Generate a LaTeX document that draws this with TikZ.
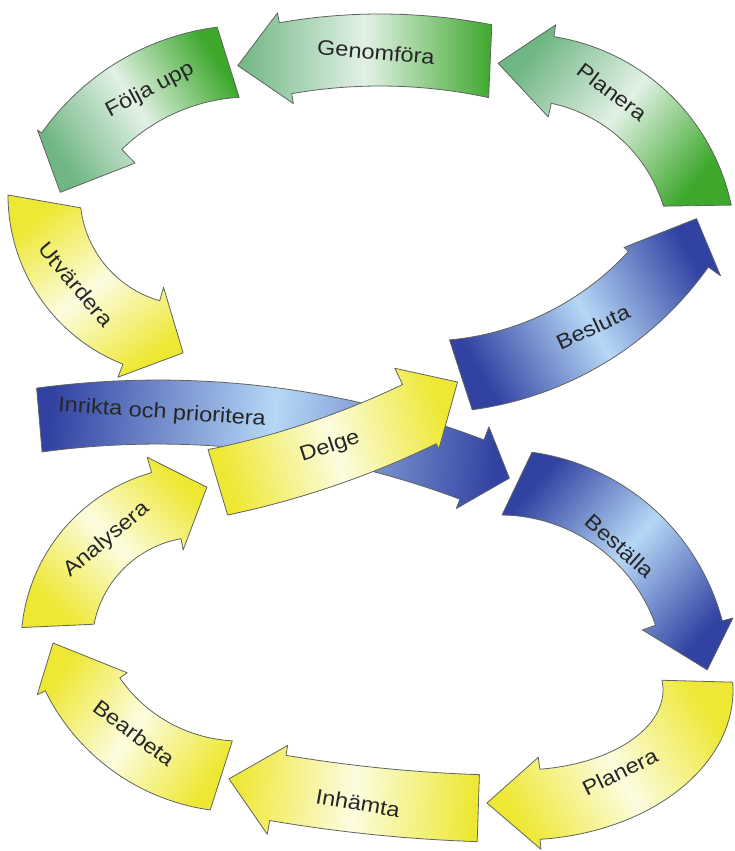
\documentclass[tikz,border=0pt]{standalone}
\usepackage{fontspec}
\setmainfont{Liberation Sans}[FakeStretch=1.12]

% colours of the three arrow families
\definecolor{gDeep}{RGB}{62,168,45}
\definecolor{gSea}{RGB}{112,182,132}
\definecolor{gPale}{RGB}{226,241,229}
\definecolor{yDeep}{RGB}{238,232,52}
\definecolor{yPale}{RGB}{252,252,224}
\definecolor{bDeep}{RGB}{50,66,162}
\definecolor{bPale}{RGB}{182,216,246}
\definecolor{edge}{RGB}{95,100,95}

% geometry of a curved block arrow along an elliptic arc
% cx,cy: centre; rx,ry: mid radii; w: band width
% to/ti: tail angle on outer/inner edge; ho/hi: head base angle on outer/inner edge
% tip: tip angle; bo/bi: barb overhang outside/inside; tr: radial offset of the tip
\pgfkeys{/band/.is family, /band/.cd,
  cx/.store in=\bdCx, cy/.store in=\bdCy,
  r/.code={\def\bdRx{#1}\def\bdRy{#1}},
  rx/.store in=\bdRx, ry/.store in=\bdRy, w/.store in=\bdW,
  to/.store in=\bdTo, ti/.store in=\bdTi, ho/.store in=\bdHo, hi/.store in=\bdHi,
  tip/.store in=\bdTip, bo/.store in=\bdBo, bi/.store in=\bdBi, tr/.store in=\bdTr}

\newcommand\bandarrow[2]{%
  \begingroup
  \pgfkeys{/band/.cd, bo=12, bi=12, tr=0, #1}%
  \pgfmathsetmacro\bdXo{\bdRx+\bdW/2}%
  \pgfmathsetmacro\bdYo{\bdRy+\bdW/2}%
  \pgfmathsetmacro\bdXi{\bdRx-\bdW/2}%
  \pgfmathsetmacro\bdYi{\bdRy-\bdW/2}%
  \begin{scope}[shift={(\bdCx,\bdCy)}]
    \path[#2]
      ({\bdXo*cos(\bdTo)},{\bdYo*sin(\bdTo)})
      arc[start angle=\bdTo, end angle=\bdHo, x radius=\bdXo, y radius=\bdYo]
      -- ({(\bdXo+\bdBo)*cos(\bdHo)},{(\bdYo+\bdBo)*sin(\bdHo)})
      -- ({(\bdRx+\bdTr)*cos(\bdTip)},{(\bdRy+\bdTr)*sin(\bdTip)})
      -- ({(\bdXi-\bdBi)*cos(\bdHi)},{(\bdYi-\bdBi)*sin(\bdHi)})
      -- ({\bdXi*cos(\bdHi)},{\bdYi*sin(\bdHi)})
      arc[start angle=\bdHi, end angle=\bdTi, x radius=\bdXi, y radius=\bdYi]
      -- cycle;
  \end{scope}
  \endgroup}

\begin{document}
\begin{tikzpicture}[x=1pt, y=-1pt,
  band/.style={draw=edge, line width=0.8pt, line join=round},
  greenband/.style={band, left color=gDeep, right color=gSea, middle color=gPale},
  yellowband/.style={band, left color=yDeep, right color=yDeep, middle color=yPale},
  blueband/.style={band, left color=bDeep, right color=bDeep, middle color=bPale},
  lbl/.style={font=\fontsize{21}{24}\selectfont, text=black!85, inner sep=0pt}]

\fill[white] (0,0) rectangle (735,851);
\useasboundingbox (0,0) rectangle (735,851);

% upper loop
\bandarrow{cx=520, cy=250, r=183, w=66, to=-12, ti=-17, ho=-81, hi=-78, tip=-96.7, bo=12, bi=14, tr=5}
  {greenband, shading angle=231}
\bandarrow{cx=380, cy=600, r=550, w=72, to=-79, ti=-77.8, ho=-99.9, hi=-99.9, tip=-104.9, bo=10, bi=10, tr=3}
  {greenband, shading angle=270}
\bandarrow{cx=250, cy=280, r=219, w=72, to=-97.4, ti=-93.4, ho=-144.8, hi=-134.5, tip=-155.2, bo=5, bi=19, tr=-10}
  {greenband, shading angle=303}
\bandarrow{cx=190, cy=195, r=146, w=72, to=180, ti=173.3, ho=111.6, hi=106, tip=92.5, bo=14, bi=14, tr=12}
  {yellowband, shading angle=37}
\bandarrow{cx=425, cy=65, r=312, w=72, to=82.2, ti=84.9, ho=35.5, hi=42.5, tip=29.5, bo=15, bi=6, tr=0}
  {blueband, shading angle=120}

% crossing band: Inrikta passes beneath Delge
\bandarrow{cx=158, cy=1298, r=886, w=64, to=-97.6, ti=-97.8, ho=-69.2, hi=-69.3, tip=-66.8, bo=14, bi=10, tr=6}
  {blueband, shading angle=85}
\bandarrow{cx=44, cy=-364, r=864, w=68, to=78.2, ti=78.6, ho=64.1, hi=64.4, tip=61.0, bo=6, bi=18, tr=-11}
  {yellowband, shading angle=107}

% lower loop
\bandarrow{cx=500, cy=680, r=197.5, w=65, to=-82, ti=-89.3, ho=-14.9, hi=-19.4, tip=-2.8, bo=11, bi=14, tr=10}
  {blueband, shading angle=49}
\bandarrow{cx=520, cy=690, rx=178, ry=115, w=70, to=-3, ti=-7, ho=84.6, hi=82, tip=100.7, bo=10, bi=12, tr=0}
  {yellowband, shading angle=301}
\bandarrow{cx=528, cy=-691, r=1500, w=67, to=91.9, ti=91.9, ho=99.7, hi=99.5, tip=101.5, bo=14, bi=10, tr=0}
  {yellowband, shading angle=265}
\bandarrow{cx=240, cy=595, r=181.5, w=71, to=97.9, ti=93, ho=153.8, hi=145.4, tip=165.6, bo=9, bi=9, tr=11.5}
  {yellowband, shading angle=236}
\bandarrow{cx=200, cy=645, r=143.5, w=71, to=185.6, ti=191.1, ho=254.3, hi=259.9, tip=272.5, bo=16, bi=11.5, tr=14.5}
  {yellowband, shading angle=135}

% labels
\node[lbl, rotate=-5]  (tGenom)   at (376,52)  {Genomföra};
\node[lbl, rotate=-37] (tPlanG)   at (612,92)  {Planera};
\node[lbl, rotate=28]  (tFolj)    at (150,90)  {Följa upp};
\node[lbl, rotate=-50] (tUtv)     at (76,284)  {Utvärdera};
\node[lbl, rotate=-4]  (tInr)     at (162,413) {Inrikta och prioritera};
\node[lbl, rotate=18]  (tDelge)   at (330,447) {Delge};
\node[lbl, rotate=25]  (tBesl)    at (593,327) {Besluta};
\node[lbl, rotate=-42] (tBest)    at (620,546) {Beställa};
\node[lbl, rotate=26]  (tPlanY)   at (620,772) {Planera};
\node[lbl, rotate=-10] (tInh)     at (358,803) {Inhämta};
\node[lbl, rotate=-37] (tBearb)   at (134,733) {Bearbeta};
\node[lbl, rotate=40]  (tAnal)    at (107,540) {Analysera};
\end{tikzpicture}
\end{document}
